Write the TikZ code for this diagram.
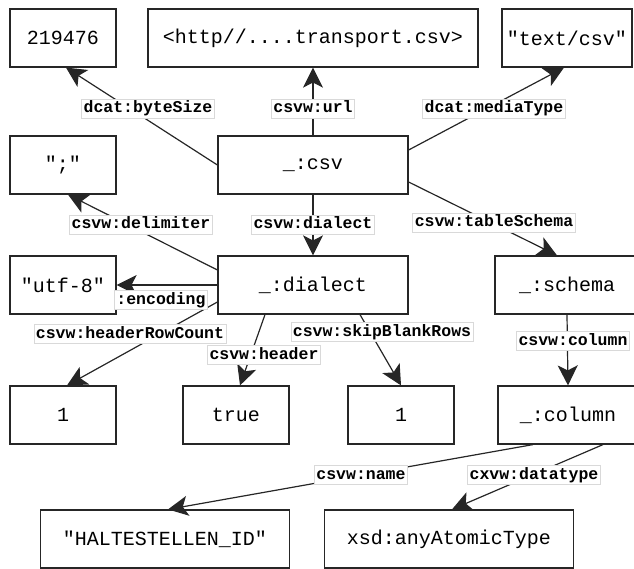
\documentclass[tikz,border=0pt]{standalone}
\usepackage{fontspec}
\setmonofont{Liberation Mono}
\usetikzlibrary{arrows.meta}

\begin{document}
\begin{tikzpicture}[-{Stealth[length=20pt,width=20pt,inset=5pt]},x=1pt,y=-1pt,line width=1.2pt,draw=black!85]
\tikzset{res/.style={draw,-,rectangle,inner sep=0,minimum height=58pt,minimum width=#1,font=\fontsize{20}{24}\selectfont\ttfamily},res/.default=106pt}
\tikzset{lbl/.style={fill=white,draw=black!15,line width=0.6pt,inner sep=2pt,text height=11.5pt,text depth=3.5pt,font=\fontsize{16.5}{18}\selectfont\ttfamily\bfseries}}

\useasboundingbox (0,0) rectangle (634,569);
\clip (0,0) rectangle (634,569);

% resources
\node[res] (bytes) at (63,38) {219476};
\node[res=330pt] (url) at (313,38) {<http//....transport.csv>};
\node[res=130pt] (mtype) at (567,38) {"text/csv"};
\node[res] (delim) at (63,165) {";"};
\node[res=190pt] (csv) at (313,165) {\_:csv};
\node[res] (enc) at (63,285) {"utf-8"};
\node[res=190pt] (dialect) at (313,285) {\_:dialect};
\node[res=144pt] (schema) at (567,285) {\_:schema};
\node[res] (rows) at (63,415) {1};
\node[res] (hdr) at (236,415) {true};
\node[res] (blank) at (401,415) {1};
\node[res=140pt] (column) at (568,415) {\_:column};
\node[res=249pt] (name) at (165,539) {"HALTESTELLEN\_ID"};
\node[res=249pt] (dtype) at (449,539) {xsd:anyAtomicType};

% properties of the csv
\draw (csv.west) -- ([xshift=3pt]bytes.south);
\draw (csv.north) -- (url.south);
\draw ([yshift=15pt]csv.east) -- ([xshift=-3pt]mtype.south);
\draw (csv.south) -- (dialect.north);
\draw ([yshift=-17pt]csv.east) -- ([xshift=-10pt]schema.north);

% dialect
\draw ([yshift=15pt]dialect.west) -- ([xshift=5pt]delim.south);
\draw (dialect.west) -- (enc.east);
\draw ([yshift=-17pt]dialect.west) -- ([xshift=4pt]rows.north);
\draw ([xshift=-48pt]dialect.south) -- ([xshift=4pt]hdr.north);
\draw ([xshift=47pt]dialect.south) -- (blank.north);

% schema and column
\draw (schema.south) -- (column.north);
\draw ([xshift=-35pt]column.south) -- ([xshift=3pt]name.north);
\draw ([xshift=35pt]column.south) -- ([xshift=3pt]dtype.north);

% edge labels
\node[lbl] (lbytes) at (148,109) {dcat:byteSize};
\node[lbl] (lurl) at (313,109) {csvw:url};
\node[lbl] (lmtype) at (494,109) {dcat:mediaType};
\node[lbl] (ldialect) at (313,225) {csvw:dialect};
\node[lbl] (lschema) at (494,223) {csvw:tableSchema};
\node[lbl] (ldelim) at (141,225) {csvw:delimiter};
\node[lbl] (lenc) at (161,300) {:encoding};
\node[lbl] (lrows) at (130,334) {csvw:headerRowCount};
\node[lbl] (lhdr) at (264,355) {csvw:header};
\node[lbl] (lblank) at (382,332) {csvw:skipBlankRows};
\node[lbl] (lcolumn) at (573,341) {csvw:column};
\node[lbl] (lname) at (361,475) {csvw:name};
\node[lbl] (ldtype) at (534,475) {cxvw:datatype};
\end{tikzpicture}
\end{document}
